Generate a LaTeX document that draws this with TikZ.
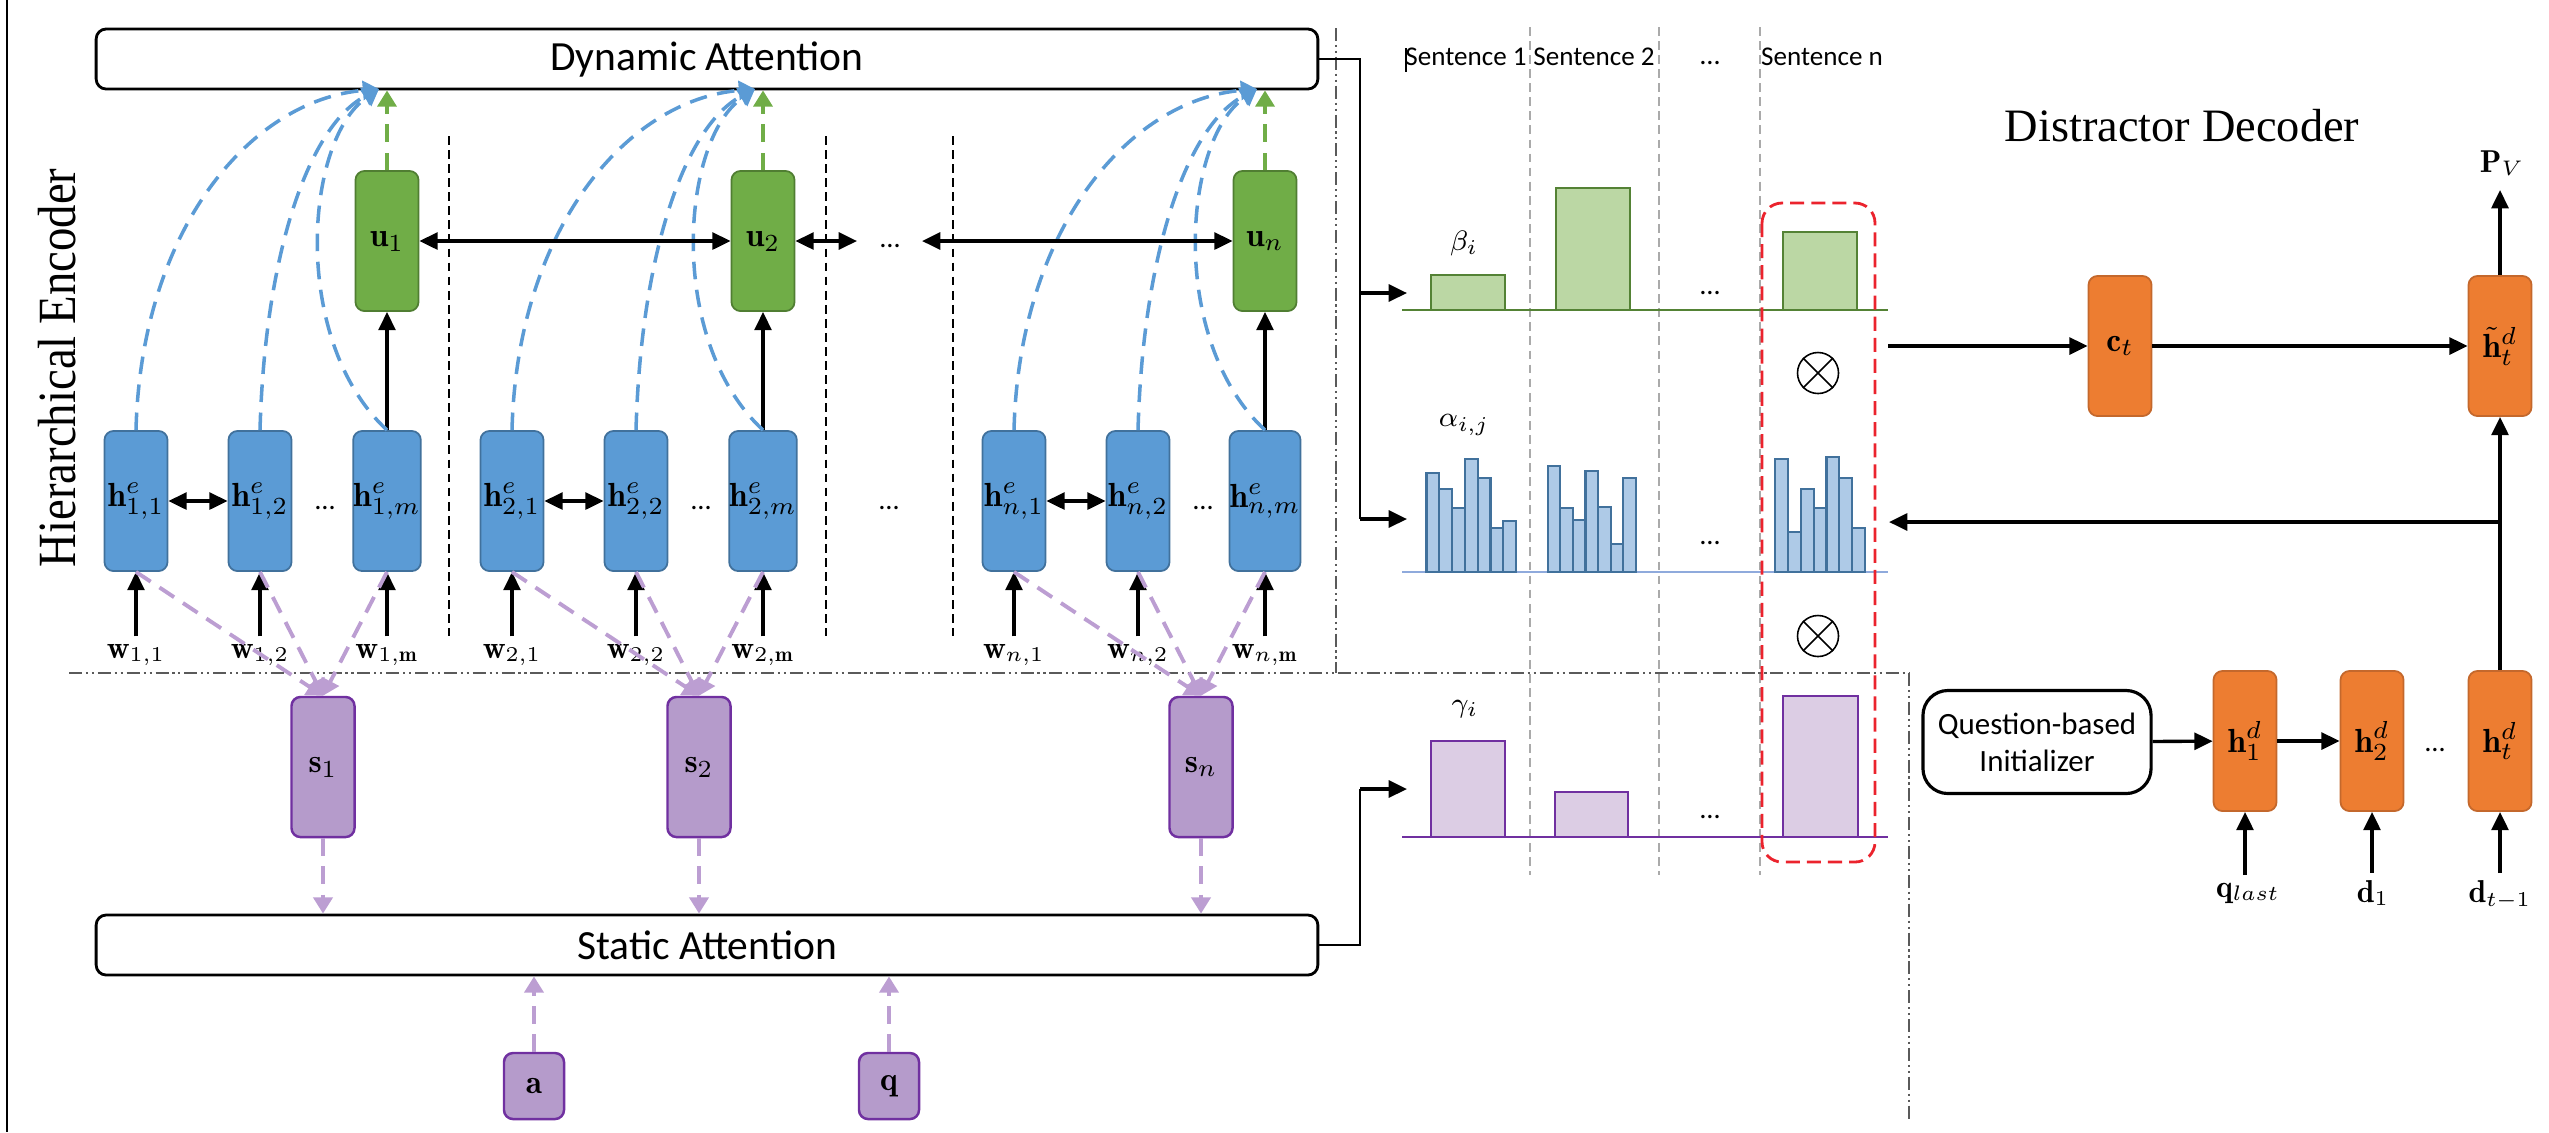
\documentclass[tikz,border=0pt]{standalone}
\usepackage{fontspec}
\usepackage{graphicx}
\newfontfamily\calib{Carlito}
\newfontfamily\timesf{Liberation Serif}
\usetikzlibrary{arrows.meta}

\definecolor{encblue}{RGB}{91,155,213}
\definecolor{encblueD}{RGB}{65,113,156}
\definecolor{encgreen}{RGB}{112,173,71}
\definecolor{encgreenD}{RGB}{80,126,50}
\definecolor{encpurple}{RGB}{181,155,203}
\definecolor{encpurpleD}{RGB}{112,48,160}
\definecolor{lilac}{RGB}{188,158,210}
\definecolor{decorange}{RGB}{237,125,49}
\definecolor{decorangeD}{RGB}{196,104,44}
\definecolor{betafill}{RGB}{187,215,164}
\definecolor{betaline}{RGB}{84,130,53}
\definecolor{alphafill}{RGB}{174,202,231}
\definecolor{alphaline}{RGB}{65,113,156}
\definecolor{alphabase}{RGB}{143,170,220}
\definecolor{gammafill}{RGB}{220,205,228}
\definecolor{gammaline}{RGB}{112,48,160}
\definecolor{guide}{RGB}{170,170,170}
\definecolor{divider}{RGB}{90,90,90}
\definecolor{focus}{RGB}{235,35,45}

\begin{document}
\begin{tikzpicture}[x=0.01cm, y=-0.01cm,
  btip/.tip={Triangle[length=5.2pt,width=4.8pt]},
  dtip/.tip={Triangle[length=4.6pt,width=5.4pt]},
  arr/.style={line width=0.95pt, -btip},
  darr/.style={line width=0.95pt, btip-btip},
  blued/.style={color=encblue, line width=1pt, dash pattern=on 5pt off 3pt, -dtip},
  greend/.style={color=encgreen, line width=1pt, dash pattern=on 5pt off 3pt, -dtip},
  lilacd/.style={color=lilac, line width=1.1pt, dash pattern=on 5pt off 3pt, -dtip},
  cell/.style={rounded corners=0.9mm, minimum width=0.63cm, minimum height=1.4cm,
    inner sep=0pt, line width=0.5pt, font=\fontsize{9.5}{11}\selectfont},
  hcell/.style={cell, fill=encblue, draw=encblueD},
  ucell/.style={cell, fill=encgreen, draw=encgreenD},
  scell/.style={cell, fill=encpurple, draw=encpurpleD, line width=0.7pt},
  dcell/.style={cell, fill=decorange, draw=decorangeD},
  attn/.style={draw, line width=0.8pt, rounded corners=1mm, minimum width=12.21cm,
    minimum height=0.6cm, inner sep=0pt, font=\calib\fontsize{11.8}{14}\selectfont},
  wlab/.style={inner sep=2pt, font=\fontsize{9}{10.5}\selectfont},
  ellip/.style={inner sep=0pt, font=\calib\fontsize{8}{9}\selectfont},
  sent/.style={inner sep=0pt, font=\calib\fontsize{7.7}{9}\selectfont},
  glab/.style={inner sep=0pt, font=\fontsize{8.5}{10}\selectfont},
  sepline/.style={line width=0.4pt, dash pattern=on 2.5pt off 1.5pt},
  guideline/.style={color=guide, line width=0.4pt, dash pattern=on 2.5pt off 1.5pt},
  divline/.style={color=divider, line width=0.75pt,
    dash pattern=on 3.7pt off 1.1pt on 0.6pt off 1.1pt on 0.6pt off 1.1pt},
  betabar/.style={fill=betafill, draw=betaline, line width=0.6pt},
  alphabar/.style={fill=alphafill, draw=alphaline, line width=0.6pt},
  gammabar/.style={fill=gammafill, draw=gammaline, line width=0.6pt},
]
\useasboundingbox (0,0) rectangle (2549,1132);

% left frame rule
\draw[line width=0.6pt] (7,0) -- (7,1132);

% section dividers
\draw[divline] (69,673) -- (1909,673);
\draw[divline] (1336,28) -- (1336,673);
\draw[divline] (1909,673) -- (1909,1122);

% sentence separators in the encoder
\foreach \x in {449,826,953}
  \draw[sepline] (\x,136) -- (\x,636);

% attention layers
\node[attn] (DA) at (707,59) {Dynamic Attention};
\node[attn] (SA) at (707,945) {Static Attention};

\node[rotate=90, inner sep=0pt, font=\timesf\fontsize{13.3}{16}\selectfont] (henc) at (57,368)
  {\scalebox{1}[1.15]{Hierarchical Encoder}};

% encoder groups: word cells, sentence cell, static sentence cell
\foreach \g/\b in {1/136,2/512,n/1014}{
  \node[hcell] (h\g-1) at (\b,501) {$\mathbf{h}^{e}_{\g,1}$};
  \node[hcell] (h\g-2) at (\b+124,501) {$\mathbf{h}^{e}_{\g,2}$};
  \node[hcell] (h\g-m) at (\b+251,501) {$\mathbf{h}^{e}_{\g,m}$};
  \node[ucell] (u\g) at (\b+251,241) {$\mathbf{u}_{\g}$};
  \node[scell] (s\g) at (\b+187,767) {$\mathbf{s}_{\g}$};
  \node[ellip] at (\b+189,508) {…};

  \node[wlab] (w\g-1) at (\b,655) {$\mathbf{w}_{\g,1}$};
  \node[wlab] (w\g-2) at (\b+124,655) {$\mathbf{w}_{\g,2}$};
  \node[wlab] (w\g-m) at (\b+251,655) {$\mathbf{w}_{\g,\mathbf{m}}$};

  \draw[arr] (w\g-1) -- (h\g-1);
  \draw[arr] (w\g-2) -- (h\g-2);
  \draw[arr] (w\g-m) -- (h\g-m);
  \draw[darr] (h\g-1) -- (h\g-2);
  \draw[arr] (h\g-m) -- (u\g);

  % word-level attention
  \coordinate (t\g) at (\b+243,89);
  \draw[blued] (h\g-1.north) .. controls (\b+5,230) and (\b+114,100) .. (t\g);
  \draw[blued] (h\g-2.north) .. controls (\b+129,250) and (\b+174,125) .. (t\g);
  \draw[blued] (h\g-m.north) .. controls (\b+154,340) and (\b+169,140) .. (t\g);
  \draw[greend] (u\g.north) -- (u\g.north |- DA.south);

  % static sentence encoding
  \draw[lilacd] (h\g-1.south) -- (s\g.north);
  \draw[lilacd] (h\g-2.south) -- (s\g.north);
  \draw[lilacd] (h\g-m.south) -- (s\g.north);
  \draw[lilacd] (s\g.south) -- (s\g.south |- SA.north);
}

% sentence-level recurrence
\coordinate (ur) at (857,241);
\coordinate (ul) at (922,241);
\draw[darr] (u1) -- (u2);
\draw[darr] (u2) -- (ur);
\draw[darr] (ul) -- (un);
\node[ellip] at (890,246) {…};
\node[ellip] at (889,508) {…};

% answer and question inputs
\node[scell, minimum height=0.66cm, minimum width=0.6cm] (a) at (534,1086) {$\mathbf{a}$};
\node[scell, minimum height=0.66cm, minimum width=0.6cm] (q) at (889,1086) {$\mathbf{q}$};
\draw[lilacd] (a.north) -- (a.north |- SA.south);
\draw[lilacd] (q.north) -- (q.north |- SA.south);

% sentence columns
\node[sent] at (1466,57) {Sentence 1};
\node[sent] at (1594,57) {Sentence 2};
\node[ellip] at (1710,63) {…};
\node[sent] at (1822,57) {Sentence n};
\draw[line width=0.4pt] (1406,48) -- (1406,72);
\foreach \x in {1530,1659,1760}
  \draw[guideline] (\x,27) -- (\x,875);

% beta distribution
\draw[betaline, line width=0.7pt] (1402,310) -- (1888,310);
\draw[betabar] (1431,310) rectangle (1505,275);
\draw[betabar] (1556,310) rectangle (1630,188);
\draw[betabar] (1783,310) rectangle (1857,232);
\node[glab] at (1464,243) {$\beta_i$};
\node[ellip] at (1710,293) {…};

% alpha distribution
\draw[alphabase, line width=0.7pt] (1402,572) -- (1888,572);
\foreach \t [count=\i from 0] in {473,489,508,459,478,528,521}
  \draw[alphabar] ({1426.5+\i*12.8},572) rectangle ({1426.5+(\i+1)*12.8},\t);
\foreach \t [count=\i from 0] in {466,508,520,471,507,544,478}
  \draw[alphabar] ({1547.7+\i*12.6},572) rectangle ({1547.7+(\i+1)*12.6},\t);
\foreach \t [count=\i from 0] in {459,532,489,508,457,478,528}
  \draw[alphabar] ({1775.3+\i*12.8},572) rectangle ({1775.3+(\i+1)*12.8},\t);
\node[glab] at (1464,425) {$\alpha_{i,j}$};
\node[ellip] at (1710,543) {…};

% gamma distribution
\draw[gammaline, line width=0.7pt] (1402,837) -- (1888,837);
\draw[gammabar] (1431,837) rectangle (1505,741);
\draw[gammabar] (1555,837) rectangle (1628,792);
\draw[gammabar] (1783,837) rectangle (1858,696);
\node[glab] at (1465,709) {$\gamma_i$};
\node[ellip] at (1710,817) {…};

% highlighted sentence and products
\draw[focus, line width=0.8pt, dash pattern=on 4pt off 2pt, rounded corners=2mm]
  (1762,203) rectangle (1875,862);
\node[circle, draw, line width=0.45pt, minimum size=4.1mm, inner sep=0pt] (m1) at (1818,373) {};
\draw[line width=0.45pt] (m1.north west) -- (m1.south east) (m1.north east) -- (m1.south west);
\node[circle, draw, line width=0.45pt, minimum size=4.1mm, inner sep=0pt] (m2) at (1818,636) {};
\draw[line width=0.45pt] (m2.north west) -- (m2.south east) (m2.north east) -- (m2.south west);

% attention outputs feeding the distributions
\coordinate (tap) at (1360,59);
\coordinate (betaIn) at (1407,293);
\coordinate (alphaIn) at (1407,519);
\coordinate (gammaIn) at (1407,789);
\draw[line width=0.5pt] (DA.east) -- (tap) -- (tap |- alphaIn);
\draw[arr] (tap |- betaIn) -- (betaIn);
\draw[arr] (tap |- alphaIn) -- (alphaIn);
\draw[line width=0.5pt] (SA.east) -- (SA.east -| tap) -- (tap |- gammaIn);
\draw[arr] (tap |- gammaIn) -- (gammaIn);

% distractor decoder
\node[font=\timesf\fontsize{13.2}{16}\selectfont, inner sep=0pt] (ddec) at (2182,126) {Distractor Decoder};
\node[dcell] (ct) at (2120,346) {$\mathbf{c}_t$};
\node[dcell] (ht) at (2500,346) {$\tilde{\mathbf{h}}^{d}_{t}$};
\node[dcell] (hd1) at (2245,741) {$\mathbf{h}^{d}_{1}$};
\node[dcell] (hd2) at (2372,741) {$\mathbf{h}^{d}_{2}$};
\node[dcell] (hdt) at (2500,741) {$\mathbf{h}^{d}_{t}$};
\node[ellip] at (2435,750) {…};
\node[draw, line width=0.9pt, rounded corners=2.5mm, minimum width=2.28cm, minimum height=1.03cm,
  inner sep=0pt, align=center, font=\calib\fontsize{8.8}{10.5}\selectfont] (init) at (2037,742)
  {Question-based\\Initializer};

\node[wlab] (ql) at (2248,893) {$\mathbf{q}_{last}$};
\node[wlab] (d1) at (2373,893) {$\mathbf{d}_{1}$};
\node[wlab] (dt1) at (2500,895) {$\mathbf{d}_{t-1}$};
\draw[arr] (ql.north -| hd1) -- (hd1);
\draw[arr] (d1.north -| hd2) -- (hd2);
\draw[arr] (dt1.north -| hdt) -- (hdt);
\draw[arr] (init) -- (hd1);
\draw[arr] (hd1) -- (hd2);

\coordinate (ctx) at (1888,346);
\coordinate (alphaBack) at (1889,522);
\coordinate (pv) at (2500,190);
\draw[arr] (ctx) -- (ct);
\draw[arr] (ct) -- (ht);
\draw[arr] (hdt) -- (ht);
\draw[arr] (hdt.north |- alphaBack) -- (alphaBack);
\draw[arr] (ht) -- (pv);
\node[wlab] (pvl) at (2502,163) {$\mathbf{P}_{V}$};
\end{tikzpicture}
\end{document}
